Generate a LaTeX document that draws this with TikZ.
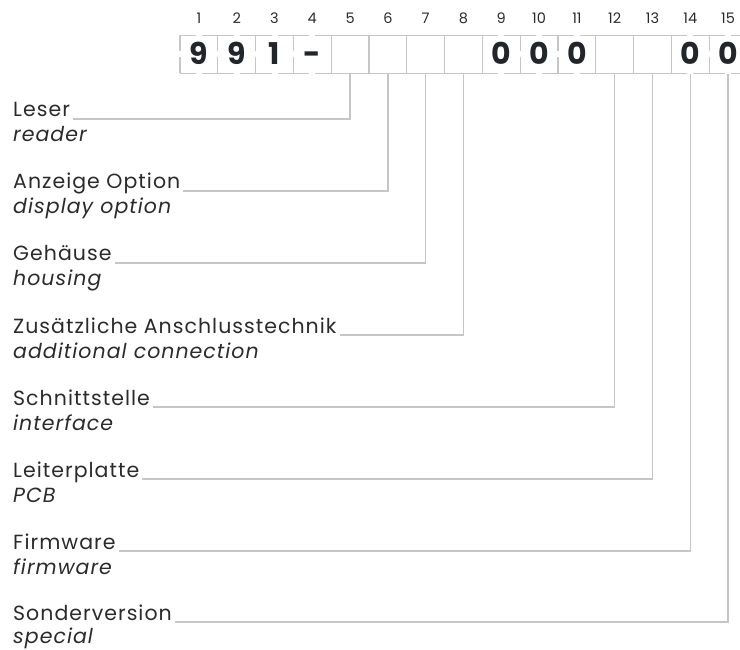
\documentclass[tikz,border=0pt]{standalone}
\usepackage{fontspec}
\setmainfont{Poppins}
\definecolor{txt}{HTML}{2B2B2B}
\definecolor{dig}{HTML}{22262A}
\definecolor{ln}{HTML}{C6C6C6}
\tikzset{
  cell/.style={draw=ln, line width=1.3pt, minimum size=37.8pt, inner sep=0pt, anchor=center,
    text height=21pt, text depth=0pt,
    font=\fontsize{30}{30}\selectfont\bfseries, text=dig},
  fixedcell/.style={cell, dash pattern=on 31.8pt off 6pt, dash phase=15.9pt},
  colnum/.style={font=\fontsize{14.5}{16}\selectfont, text=txt, inner sep=0pt},
  ger/.style={font=\fontsize{20.5}{22}\selectfont\addfontfeatures{LetterSpace=5}, text=txt, inner sep=0pt, anchor=base west},
  eng/.style={font=\fontsize{20.5}{22}\selectfont\itshape\addfontfeatures{LetterSpace=5}, text=txt, inner sep=0pt, anchor=base west},
  leader/.style={draw=ln, line width=1.3pt}
}
\begin{document}
\begin{tikzpicture}[x=1pt,y=-1pt]
\useasboundingbox (0,0) rectangle (740,650);
\clip (0,0) rectangle (740,650);
% column numbers
\foreach \i in {1,...,15}{
  \node[colnum] (n\i) at ({180+(\i-0.5)*37.8}, 18) {\i};
}
% fixed cells
\node[fixedcell] (b1) at ({180+0.5*37.8}, 54.5) {9};
\node[fixedcell] (b2) at ({180+1.5*37.8}, 54.5) {9};
\node[fixedcell] (b3) at ({180+2.5*37.8}, 54.5) {1};
\node[fixedcell] (b4) at ({180+3.5*37.8}, 54.5) {-};
\node[fixedcell] (b9) at ({180+8.5*37.8}, 54.5) {0};
\node[fixedcell] (b10) at ({180+9.5*37.8}, 54.5) {0};
\node[fixedcell] (b11) at ({180+10.5*37.8}, 54.5) {0};
\node[fixedcell] (b14) at ({180+13.5*37.8}, 54.5) {0};
\node[fixedcell] (b15) at ({180+14.5*37.8}, 54.5) {0};
% free cells
\foreach \i in {5,6,7,8,12,13}{
  \node[cell] (b\i) at ({180+(\i-0.5)*37.8}, 54.5) {};
}
% labels
\node[ger] (g1) at (13,117) {Leser};
\node[eng] (e1) at (13,142) {reader};
\node[ger] (g2) at (13,189) {Anzeige Option};
\node[eng] (e2) at (13,214) {display option};
\node[ger] (g3) at (13,261) {Gehäuse};
\node[eng] (e3) at (13,286) {housing};
\node[ger] (g4) at (13,333) {Zusätzliche Anschlusstechnik};
\node[eng] (e4) at (13,358) {additional connection};
\node[ger] (g5) at (13,405) {Schnittstelle};
\node[eng] (e5) at (13,430) {interface};
\node[ger] (g6) at (13,477) {Leiterplatte};
\node[eng] (e6) at (13,502) {PCB};
\node[ger] (g7) at (13,549) {Firmware};
\node[eng] (e7) at (13,574) {firmware};
\node[ger] (g8) at (13,620) {Sonderversion};
\node[eng] (e8) at (13,643) {special};
% leaders
\draw[leader] (b5.south) |- ([shift={(3pt,-2pt)}]g1.base east);
\draw[leader] (b6.south) |- ([shift={(3pt,-2pt)}]g2.base east);
\draw[leader] (b7.south) |- ([shift={(3pt,-2pt)}]g3.base east);
\draw[leader] (b8.south) |- ([shift={(3pt,-2pt)}]g4.base east);
\draw[leader] (b12.south) |- ([shift={(3pt,-2pt)}]g5.base east);
\draw[leader] (b13.south) |- ([shift={(3pt,-2pt)}]g6.base east);
\draw[leader] (b14.south) |- ([shift={(3pt,-2pt)}]g7.base east);
\draw[leader] (b15.south) |- ([shift={(3pt,-2pt)}]g8.base east);
\end{tikzpicture}
\end{document}
